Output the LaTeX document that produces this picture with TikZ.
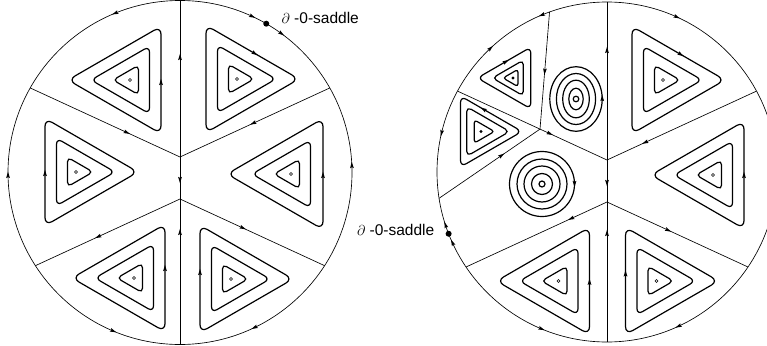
\documentclass[tikz,border=0pt]{standalone}
\usepackage{fontspec}
\setmainfont{Liberation Sans}
\usetikzlibrary{calc}
\tikzset{
  thinln/.style={line width=0.65pt},
  curve/.style={line width=1.2pt},
  ahead/.pic={\fill (3.2,0) -- (-3.2,-1.9) -- (-2.2,0) -- (-3.2,1.9) -- cycle;},
  lbl/.style={inner sep=0pt, font=\fontsize{15.5}{18}\selectfont},
  sdot/.style={fill=black, draw=none}
}
% arrow head at (x,y) pointing in image direction d (0=right, 90=down)
\newcommand\ahd[3]{\pic[rotate={-(#3)}] at (#1,#2) {ahead};}
% arrow head on circle: centre, radius, angle, sense (+1 / -1)
\newcommand\cahd[4]{\pic[rotate={-(#3+#4*90)}] at ($(#1)+(#3:#2)$) {ahead};}
% rounded triangle: cx, cy, direction, r (inradius), corner
\newcommand\tri[5]{%
  \draw[curve, rounded corners=#5pt]
    ($($(#1,#2)+(#3+120:2*#4)$)!0.5!($(#1,#2)+(#3-120:2*#4)$)$)
    -- ($(#1,#2)+(#3-120:2*#4)$)
    -- ($(#1,#2)+(#3:2*#4)$)
    -- ($(#1,#2)+(#3+120:2*#4)$)
    -- cycle;}
% family: cx, cy, direction, outer r
\newcommand\tfam[4]{%
  \tri{#1}{#2}{#3}{#4}{8}
  \tri{#1}{#2}{#3}{19.5}{6}
  \tri{#1}{#2}{#3}{8.5}{4.5}
  \draw[thinln] (#1,#2) circle [radius=1.5];}
\begin{document}
\begin{tikzpicture}[x=1pt,y=-1pt]
\useasboundingbox (0,0) rectangle (767,345);
\clip (0,0) rectangle (767,345);

% ================= left disk =================
\coordinate (C1) at (180,172.5);
\coordinate (L1) at (180,157);
\coordinate (L2) at (180,199);
\coordinate (LUL) at (30.25,87.96);
\coordinate (LUR) at (329.75,87.96);
\coordinate (LLL) at (35.43,265.66);
\coordinate (LLR) at (324.57,265.66);
\draw[thinln] (C1) circle [radius=172];
\draw[thinln] ($(C1)+(-90:172)$) -- ($(C1)+(90:172)$);
\draw[thinln] (LUL) -- (L1) -- (LUR);
\draw[thinln] (LLL) -- (L2) -- (LLR);

\tfam{130}{80}{180}{31}
\tfam{237}{79}{0}{31}
\tfam{76}{172}{0}{31}
\tfam{291}{174}{180}{32}
\tfam{134}{278}{180}{31}
\tfam{231}{279}{0}{31}

% boundary arrows
\cahd{C1}{172}{-112.2}{-1}
\cahd{C1}{172}{-65.1}{1}
\cahd{C1}{172}{-53.8}{1}
\cahd{C1}{172}{-2.5}{-1}
\cahd{C1}{172}{179.2}{1}
\cahd{C1}{172}{112.8}{-1}
\cahd{C1}{172}{64.4}{1}
% line arrows
\ahd{180}{57}{-90}
\ahd{180}{180}{90}
\ahd{180}{232}{-90}
\ahd{127}{132.6}{24.75}
\ahd{253}{123.3}{155.25}
\ahd{98}{236.8}{155.25}
\ahd{243}{228}{24.75}
% triangle arrows
\ahd{161}{82}{-90}
\ahd{255}{53.6}{30}
\ahd{45}{173}{-90}
\ahd{323}{175}{-90}
\ahd{165}{268}{-90}
\ahd{200}{272}{-90}

% saddle + label
\fill[sdot] ($(C1)+(-59.9:172)$) coordinate (S1) circle [radius=3];
\node[lbl, anchor=base west] (t1) at (281.5,24) {$\partial$ -0-saddle};

% ================= right disk =================
\coordinate (C2) at (607,172);
\coordinate (R1) at (607,160);
\coordinate (R2) at (607,202);
\coordinate (P) at (540,129.1);
\coordinate (RUL) at (457.5,91.1);
\coordinate (RUR) at (756.5,91.1);
\coordinate (RLL) at (466,267);
\coordinate (RLR) at (748,267);
\draw[thinln] (C2) circle [radius=170];
\draw[thinln] ($(C2)+(-90:170)$) -- ($(C2)+(90:170)$);
\draw[thinln] (RUL) -- (P) -- (R1) -- (RUR);
\draw[thinln] (RLL) -- (R2) -- (RLR);
\draw[thinln] ($(C2)+(-109.76:170)$) coordinate (PT) -- (P) -- ($(C2)+(171.1:170)$) coordinate (PB);

% small triangles with filled centres
\tri{513}{78}{180}{17.8}{6}
\tri{513}{78}{180}{10.3}{4.5}
\tri{513}{78}{180}{5}{3}
\fill (513,78) circle [radius=1.6];
\tri{481}{131.5}{0}{20.5}{6.5}
\tri{481}{131.5}{0}{14.3}{5}
\tri{481}{131.5}{0}{6.7}{3}
\fill (481,131.5) circle [radius=1.6];

\tfam{663}{80}{0}{31}
\tfam{713}{175}{180}{31}
\tfam{558.5}{281}{180}{31}
\tfam{656.5}{281}{0}{31}

% concentric rings
\foreach \a/\b in {26.2/32.3, 19.6/25.5, 13.3/18.8, 7.2/10.8, 2.8/2.8}
  \draw[curve] (576,99) ellipse [x radius=\a, y radius=\b];
\foreach \a in {32.5, 25, 18, 10.5, 3}
  \draw[curve] (542,184) circle [radius=\a];

% boundary arrows
\cahd{C2}{170}{-112.6}{-1}
\cahd{C2}{170}{-65.7}{1}
\cahd{C2}{170}{-133.2}{1}
\cahd{C2}{170}{-166.8}{-1}
\cahd{C2}{170}{161.9}{1}
\cahd{C2}{170}{155.5}{1}
\cahd{C2}{170}{112.6}{-1}
\cahd{C2}{170}{65.2}{1}
% line arrows
\ahd{607}{50}{-90}
\ahd{607}{183}{90}
\ahd{607}{233}{-90}
\ahd{645}{142.5}{155.25}
\ahd{668.3}{230.3}{24.75}
\ahd{571}{218.6}{155.25}
\ahd{550}{133.7}{24.75}
\ahd{501.7}{155.3}{-34.4}
\ahd{544.7}{71.7}{94.6}
% triangle / ring arrows
\ahd{506}{61.5}{-30}
\ahd{483.3}{109.2}{-150}
\ahd{681}{54.6}{30}
\ahd{744}{175}{-90}
\ahd{589.5}{281.7}{-90}
\ahd{625.5}{273.3}{-90}
\ahd{602.2}{98}{-90}
\ahd{574.5}{184}{90}

% saddle + label
\fill[sdot] ($(C2)+(158.7:170)$) coordinate (S2) circle [radius=3];
\node[lbl, anchor=base east] (t2) at (434.5,235) {$\partial$ -0-saddle};
\end{tikzpicture}
\end{document}
